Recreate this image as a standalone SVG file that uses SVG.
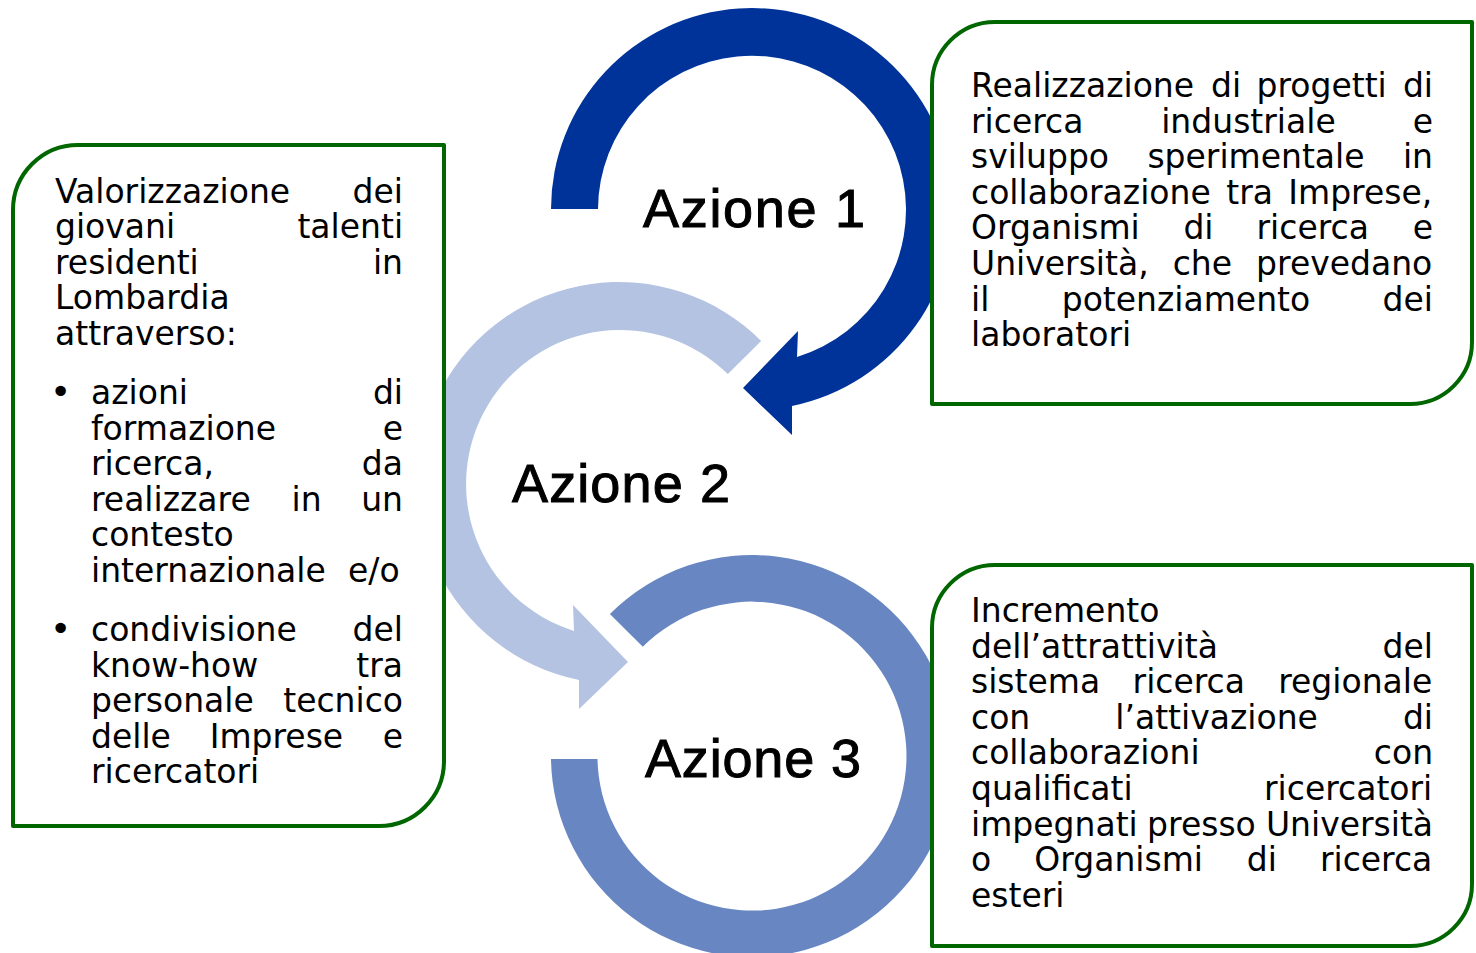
<svg xmlns="http://www.w3.org/2000/svg" width="1476" height="953" viewBox="0 0 1476 953">
<style>
.box{fill:#ffffff;stroke:#006600;stroke-width:4;stroke-linejoin:round}
.t{font-family:"DejaVu Sans",Verdana,sans-serif;font-size:33px;fill:#000}
.lab{font-family:"Liberation Sans",Arial,sans-serif;font-size:54px;fill:#000;stroke:#000;stroke-width:1;text-anchor:middle}
.bul{font-family:"DejaVu Sans",sans-serif;font-size:36px;fill:#000}
</style>
<rect width="1476" height="953" fill="#ffffff"/>
<g id="connectors">
<path id="arrow1" fill="#003399" d="M551,209 A201,201 0 1 1 792,406 L792,435 L743,388 L798,331 L797,357 A154,154 0 1 0 598,209 Z"/>
<path id="arrow2" fill="#B4C3E2" d="M761.1,340.9 A201,201 0 1 0 579,680 L579,709 L628,662 L573,605 L574,631 A154,154 0 1 1 727.9,374.1 Z"/>
<path id="arrow3" fill="#6886C2" d="M609.9,613.9 A201,201 0 1 1 551,759 L597.5,759 A154.5,154.5 0 1 0 642.8,646.8 Z"/>
</g>
<g id="azione1"><text class="lab" x="754" y="227" textLength="222" lengthAdjust="spacing">Azione 1</text></g>
<g id="azione2"><text class="lab" x="621" y="502" textLength="218" lengthAdjust="spacing">Azione 2</text></g>
<g id="azione3"><text class="lab" x="753" y="777" textLength="216" lengthAdjust="spacing">Azione 3</text></g>
<g id="box-left">
<path class="box" d="M13,210 A65,65 0 0 1 78,145 L444,145 L444,761 A65,65 0 0 1 379,826 L13,826 Z"/>
<text class="t" y="203"><tspan x="55">Valorizzazione</tspan><tspan x="352.6">dei</tspan></text>
<text class="t" y="238.4"><tspan x="55">giovani</tspan><tspan x="297.4">talenti</tspan></text>
<text class="t" y="273.8"><tspan x="55">residenti</tspan><tspan x="372.9">in</tspan></text>
<text class="t" y="309.2"><tspan x="55">Lombardia</tspan></text>
<text class="t" y="344.6"><tspan x="55">attraverso:</tspan></text>
<text class="bul" x="50" y="404">•</text>
<text class="t" y="404"><tspan x="91">azioni</tspan><tspan x="372.9">di</tspan></text>
<text class="t" y="439.6"><tspan x="91">formazione</tspan><tspan x="382.7">e</tspan></text>
<text class="t" y="475.2"><tspan x="91">ricerca,</tspan><tspan x="361.8">da</tspan></text>
<text class="t" y="510.8"><tspan x="91">realizzare</tspan><tspan x="291.6">in</tspan><tspan x="361.2">un</tspan></text>
<text class="t" y="546.4"><tspan x="91">contesto</tspan></text>
<text class="t" y="582"><tspan x="91">internazionale</tspan><tspan x="348">e/o</tspan></text>
<text class="bul" x="50" y="641">•</text>
<text class="t" y="641"><tspan x="91">condivisione</tspan><tspan x="352.6">del</tspan></text>
<text class="t" y="676.6"><tspan x="91">know-how</tspan><tspan x="356.3">tra</tspan></text>
<text class="t" y="712.2"><tspan x="91">personale</tspan><tspan x="283.2">tecnico</tspan></text>
<text class="t" y="747.8"><tspan x="91">delle</tspan><tspan x="209.7">Imprese</tspan><tspan x="382.7">e</tspan></text>
<text class="t" y="783.4"><tspan x="91">ricercatori</tspan></text>
</g>
<g id="box-top-right">
<path class="box" d="M932,85 A63,63 0 0 1 995,22 L1472,22 L1472,342 A62,62 0 0 1 1410,404 L932,404 Z"/>
<text class="t" y="97"><tspan x="971">Realizzazione</tspan><tspan x="1211">di</tspan><tspan x="1256.5">progetti</tspan><tspan x="1402.9">di</tspan></text>
<text class="t" y="132.6"><tspan x="971">ricerca</tspan><tspan x="1161.2">industriale</tspan><tspan x="1412.7">e</tspan></text>
<text class="t" y="168.2"><tspan x="971">sviluppo</tspan><tspan x="1147.4">sperimentale</tspan><tspan x="1402.9">in</tspan></text>
<text class="t" y="203.8"><tspan x="971">collaborazione</tspan><tspan x="1226.2">tra</tspan><tspan x="1288.3">Imprese,</tspan></text>
<text class="t" y="239.4"><tspan x="971">Organismi</tspan><tspan x="1183.4">di</tspan><tspan x="1256.5">ricerca</tspan><tspan x="1412.7">e</tspan></text>
<text class="t" y="275"><tspan x="971">Università,</tspan><tspan x="1172.7">che</tspan><tspan x="1256.1">prevedano</tspan></text>
<text class="t" y="310.6"><tspan x="971">il</tspan><tspan x="1061.7">potenziamento</tspan><tspan x="1382.6">dei</tspan></text>
<text class="t" y="346.2"><tspan x="971">laboratori</tspan></text>
</g>
<g id="box-bottom-right">
<path class="box" d="M932,628 A63,63 0 0 1 995,565 L1472,565 L1472,884 A62,62 0 0 1 1410,946 L932,946 Z"/>
<text class="t" y="622"><tspan x="971">Incremento</tspan></text>
<text class="t" y="657.6"><tspan x="971">dell’attrattività</tspan><tspan x="1382.6">del</tspan></text>
<text class="t" y="693.2"><tspan x="971">sistema</tspan><tspan x="1132.6">ricerca</tspan><tspan x="1278.2">regionale</tspan></text>
<text class="t" y="728.8"><tspan x="971">con</tspan><tspan x="1115.3">l’attivazione</tspan><tspan x="1402.9">di</tspan></text>
<text class="t" y="764.4"><tspan x="971">collaborazioni</tspan><tspan x="1373.8">con</tspan></text>
<text class="t" y="800"><tspan x="971">qualificati</tspan><tspan x="1264">ricercatori</tspan></text>
<text class="t" y="835.6"><tspan x="971">impegnati</tspan><tspan x="1147.1">presso</tspan><tspan x="1265.9">Università</tspan></text>
<text class="t" y="871.2"><tspan x="971">o</tspan><tspan x="1034.3">Organismi</tspan><tspan x="1246.7">di</tspan><tspan x="1319.9">ricerca</tspan></text>
<text class="t" y="906.8"><tspan x="971">esteri</tspan></text>
</g>
</svg>
